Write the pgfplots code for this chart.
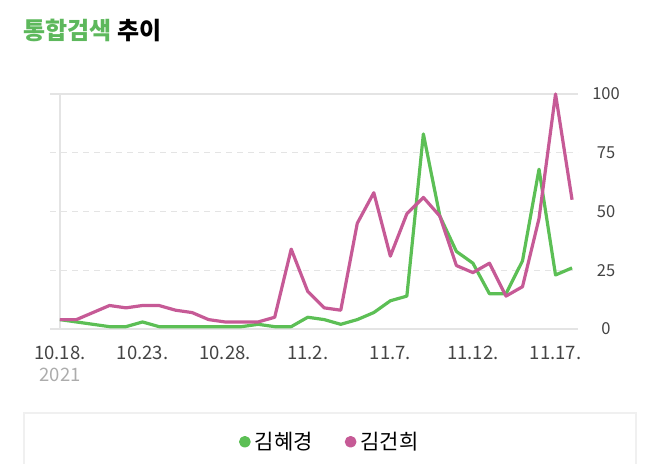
\documentclass[border=0pt]{standalone}
\usepackage{fontspec}
\setmainfont{Noto Sans CJK KR}
\usepackage{pgfplots}
\pgfplotsset{compat=1.18}
\definecolor{gline}{HTML}{5CBF55}
\definecolor{pline}{HTML}{C65A96}
\definecolor{gtitle}{HTML}{5DB85C}
\definecolor{gridc}{HTML}{E4E4E4}
\definecolor{boxc}{HTML}{F0F0F0}
\definecolor{tickc}{HTML}{444444}

\begin{document}
\begin{tikzpicture}[x=1pt,y=1pt]
\path[use as bounding box] (0,0) rectangle (658,-463);
\node[anchor=west, inner sep=0pt] at (23,-30)
  {\fontsize{24}{24}\selectfont\bfseries\textcolor{gtitle}{통합검색} 추이};
\draw[boxc, line width=1.4pt] (24,-413) rectangle (636,-480);
\begin{axis}[
  at={(50pt,-329pt)}, anchor=south west,
  scale only axis, width=528pt, height=235pt,
  xmin=-0.6, xmax=31.36, ymin=0, ymax=100,
  clip=false,
  axis line style={draw=none},
  major tick length=0pt,
  /pgf/number format/assume math mode=true,
  ytick={25,50,75},
  extra y ticks={0,100},
  ymajorgrids,
  grid style={gridc, dashed, dash pattern=on 6pt off 5pt, line width=0.9pt},
  extra y tick style={grid style={gridc, solid, line width=1.2pt}},
  yticklabel pos=right,
  yticklabel style={anchor=center, xshift=28pt, font=\fontsize{16.5}{16.5}\selectfont, color=tickc},
  xtick={0,5,10,15,20,25,30},
  xticklabels={10.18.,10.23.,10.28.,11.2.,11.7.,11.12.,11.17.},
  xticklabel style={anchor=center, yshift=-24pt, font=\fontsize{18.5}{18.5}\selectfont, color=tickc},
  legend style={at={(0.53,-0.48)}, anchor=center, draw=none, fill=none,
    legend columns=2, font=\fontsize{21}{21}\selectfont,
    /tikz/every even column/.append style={column sep=30pt}},
  legend image code/.code={\fill[#1] (0pt,0pt) circle (4.2pt);\path[draw=none,fill=none] (-4.2pt,0pt) rectangle (8pt,0.1pt);},
]
\draw[gridc, line width=1.2pt] (axis cs:0,0) -- (axis cs:0,100);
\addplot[color=gline, line width=3.2pt, line join=round] coordinates {
(0,4) (1,3) (2,2) (3,1) (4,1) (5,3) (6,1) (7,1) (8,1) (9,1) (10,1) (11,1)
(12,2) (13,1) (14,1) (15,5) (16,4) (17,2) (18,4) (19,7) (20,12) (21,14)
(22,83) (23,48) (24,33) (25,28) (26,15) (27,15) (28,29) (29,68) (30,23) (31,26)
};
\addlegendentry{김혜경}
\addplot[color=pline, line width=3.2pt, line join=round] coordinates {
(0,4) (1,4) (2,7) (3,10) (4,9) (5,10) (6,10) (7,8) (8,7) (9,4) (10,3) (11,3)
(12,3) (13,5) (14,34) (15,16) (16,9) (17,8) (18,45) (19,58) (20,31) (21,49)
(22,56) (23,48) (24,27) (25,24) (26,28) (27,14) (28,18) (29,47) (30,100) (31,55)
};
\addlegendentry{김건희}
\end{axis}
\node[color=gray!65, font=\fontsize{18.5}{18.5}\selectfont] at (60,-375) {2021};
\end{tikzpicture}
\end{document}
